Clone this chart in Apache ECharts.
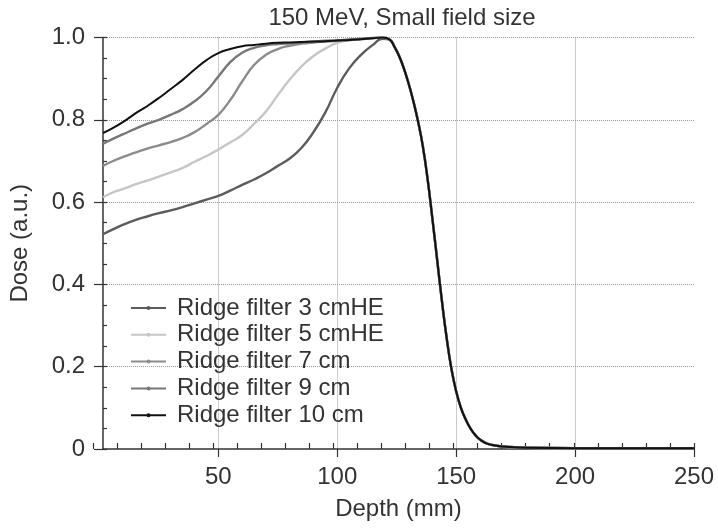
<!DOCTYPE html>
<html>
<head>
<meta charset="utf-8">
<script src="https://cdn.jsdelivr.net/npm/echarts@6/dist/echarts.min.js"></script>
<style>html,body{margin:0;padding:0;background:#fff;}#c{width:718px;height:531px;}</style>
</head>
<body>
<div id="c"></div>
<script>
// Depths (mm) for the proximal / plateau part of each curve
var depthRise = [1.5, 5, 10, 15, 20, 25, 30, 35, 40, 45, 50, 55, 60, 65, 70, 75, 80, 85, 90, 95, 100, 105, 110, 115, 119];
// Shared distal falloff (all filters coincide here)
var depthFall = [122, 124, 126, 128, 130, 132, 134, 136, 138, 140, 142, 144, 146, 148, 150, 152, 154, 156, 158, 160, 163, 167, 172, 180, 200, 225, 250];
var doseFall  = [0.995, 0.978, 0.955, 0.925, 0.888, 0.845, 0.795, 0.735, 0.655, 0.56, 0.46, 0.36, 0.27, 0.195, 0.14, 0.10, 0.072, 0.05, 0.034, 0.023, 0.013, 0.008, 0.005, 0.003, 0.002, 0.002, 0.002];

var rf3  = [0.522, 0.532, 0.545, 0.556, 0.565, 0.573, 0.580, 0.588, 0.597, 0.606, 0.615, 0.628, 0.642, 0.655, 0.670, 0.688, 0.706, 0.732, 0.770, 0.818, 0.878, 0.925, 0.958, 0.982, 0.997];
var rf5  = [0.612, 0.622, 0.632, 0.643, 0.652, 0.662, 0.672, 0.683, 0.698, 0.712, 0.728, 0.745, 0.763, 0.790, 0.820, 0.860, 0.898, 0.930, 0.955, 0.973, 0.987, 0.993, 0.996, 0.999, 1.0];
var rf7  = [0.688, 0.698, 0.710, 0.720, 0.730, 0.738, 0.746, 0.756, 0.770, 0.790, 0.812, 0.848, 0.893, 0.933, 0.958, 0.972, 0.980, 0.985, 0.988, 0.990, 0.992, 0.994, 0.996, 0.998, 1.0];
var rf9  = [0.742, 0.752, 0.765, 0.778, 0.790, 0.800, 0.812, 0.826, 0.845, 0.870, 0.905, 0.940, 0.963, 0.975, 0.981, 0.984, 0.986, 0.988, 0.990, 0.992, 0.993, 0.995, 0.997, 0.999, 1.0];
var rf10 = [0.768, 0.778, 0.795, 0.815, 0.833, 0.853, 0.875, 0.897, 0.922, 0.945, 0.962, 0.972, 0.979, 0.982, 0.985, 0.987, 0.988, 0.989, 0.990, 0.991, 0.993, 0.994, 0.996, 0.998, 1.0];

var seriesNames = ['Ridge filter 3 cmHE', 'Ridge filter 5 cmHE', 'Ridge filter 7 cm', 'Ridge filter 9 cm', 'Ridge filter 10 cm'];
var xMajor = [50, 100, 150, 200, 250];

function pairs(rise) {
  var out = [];
  for (var i = 0; i < depthRise.length; i++) out.push([depthRise[i], rise[i]]);
  for (var j = 0; j < depthFall.length; j++) out.push([depthFall[j], doseFall[j]]);
  return out;
}

var colors = ['#5c5c5c', '#c6c6c6', '#8c8c8c', '#777777', '#111111'];
var widths = [2.4, 2.4, 2.4, 2.4, 2.0];
var values = [rf3, rf5, rf7, rf9, rf10];
var FONT = 'Liberation Sans, Arial, sans-serif';
var X_MIN = 1.5, X_MAX = 250;
var GRID_L = 96.5, GRID_R = 24, GRID_T = 37.5, GRID_B = 82;
// second grid: same scale, but starting at depth 0 so 10 mm minor ticks fall on multiples of 10
var PX_PER_MM = (718 - GRID_L - GRID_R) / (X_MAX - X_MIN);
var GRID2_L = GRID_L - X_MIN * PX_PER_MM;

var series = [];
for (var k = 0; k < 5; k++) {
  series.push({
    name: seriesNames[k], type: 'line', data: pairs(values[k]),
    xAxisIndex: 0, yAxisIndex: 0,
    smooth: 0.5, symbol: 'circle', symbolSize: 4, showSymbol: false,
    lineStyle: { color: colors[k], width: widths[k] },
    itemStyle: { color: colors[k] },
    z: 2 + k
  });
}
series.push({ type: 'line', xAxisIndex: 1, yAxisIndex: 2, data: [], silent: true });

var chart = echarts.init(document.getElementById('c'));
chart.setOption({
  animation: false,
  backgroundColor: '#fff',
  textStyle: { fontFamily: FONT },
  title: { text: '150 MeV, Small field size', left: 397, top: 1, textAlign: 'center',
    textStyle: { fontFamily: FONT, fontSize: 24, fontWeight: 'normal', color: '#333' } },
  grid: [
    { left: GRID_L, right: GRID_R, top: GRID_T, bottom: GRID_B, containLabel: false },
    { left: GRID2_L, right: GRID_R, top: GRID_T, bottom: GRID_B, containLabel: false }
  ],
  legend: {
    orient: 'vertical', left: 125, top: 291, itemWidth: 35, itemHeight: 5, itemGap: 2.8,
    data: seriesNames,
    textStyle: { fontFamily: FONT, fontSize: 24, color: '#333', lineHeight: 24, padding: [0, 0, 0, 6] }
  },
  xAxis: [
    { type: 'value', gridIndex: 0, min: X_MIN, max: X_MAX, position: 'bottom',
      name: 'Depth (mm)', nameLocation: 'middle', nameGap: 48,
      nameTextStyle: { fontFamily: FONT, fontSize: 24, color: '#333' },
      axisLine: { show: true, lineStyle: { color: '#333', width: 1.5 } },
      axisTick: { show: true, inside: false, length: 8, customValues: xMajor, lineStyle: { color: '#333', width: 1.2 } },
      axisLabel: { show: true, customValues: xMajor, fontFamily: FONT, fontSize: 24, color: '#333', margin: 16 },
      splitLine: { show: true, showMaxLine: false, lineStyle: { color: '#999', type: [1, 1], width: 1 } }
    },
    { type: 'value', gridIndex: 1, min: 0, max: X_MAX, interval: 10, position: 'bottom',
      axisLine: { show: false, onZero: false },
      axisLabel: { show: false },
      splitLine: { show: false },
      axisTick: { show: true, inside: true, length: 6, lineStyle: { color: '#333', width: 1.2 } }
    }
  ],
  yAxis: [
    { type: 'value', gridIndex: 0, min: 0, max: 1, interval: 0.2, position: 'left',
      name: 'Dose (a.u.)', nameLocation: 'middle', nameGap: 71, nameRotate: 90,
      nameTextStyle: { fontFamily: FONT, fontSize: 24, color: '#333' },
      axisLine: { show: true, lineStyle: { color: '#333', width: 1.5 } },
      axisTick: { show: true, inside: false, length: 9, lineStyle: { color: '#333', width: 1.2 } },
      axisLabel: { fontFamily: FONT, fontSize: 24, color: '#333', margin: 18,
        formatter: function (v) { return v === 0 ? '0' : v.toFixed(1); } },
      splitLine: { show: true, showMinLine: false, lineStyle: { color: '#999', type: [1, 1], width: 1 } }
    },
    { type: 'value', gridIndex: 0, min: 0, max: 1, interval: 0.05, position: 'left',
      axisLine: { show: false }, axisLabel: { show: false }, splitLine: { show: false },
      axisTick: { show: true, inside: true, length: 4, lineStyle: { color: '#333', width: 1.2 } }
    },
    { type: 'value', gridIndex: 1, min: 0, max: 1, show: false }
  ],
  series: series
});
</script>
</body>
</html>
